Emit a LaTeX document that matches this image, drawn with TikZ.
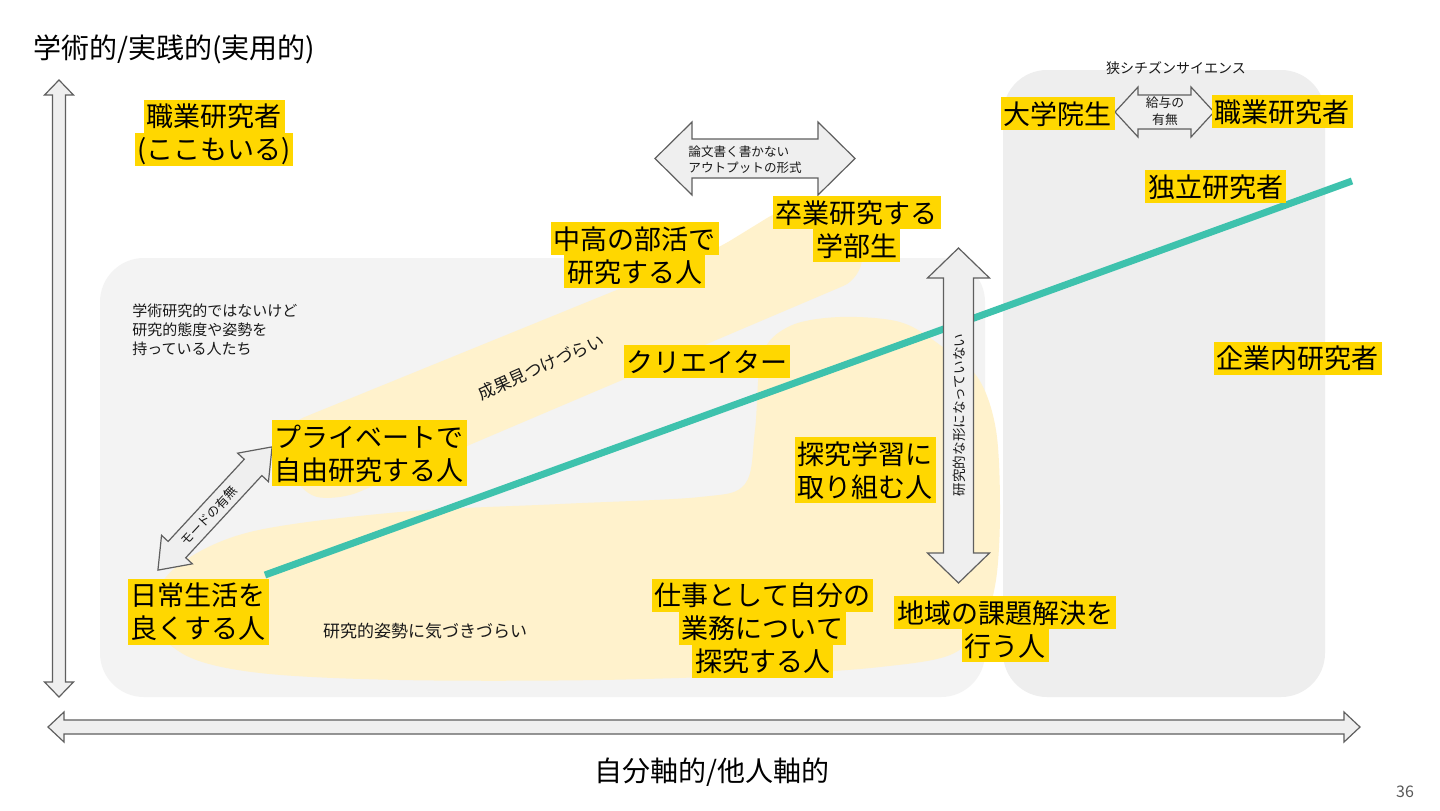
\documentclass[tikz,border=0pt]{standalone}
\usepackage{fontspec}
\setmainfont{Noto Sans CJK JP}
\usetikzlibrary{calc}
\definecolor{hl}{HTML}{FFD700}
\definecolor{paleY}{HTML}{FFF2CC}
\definecolor{boxL}{HTML}{F3F3F3}
\definecolor{boxR}{HTML}{EEEEEE}
\definecolor{arrowfill}{HTML}{EFEFEF}
\definecolor{arrowline}{HTML}{5F5F5F}
\definecolor{tealline}{HTML}{3EC2AD}
\definecolor{pagenum}{HTML}{595959}
\newcommand\yl[1]{{\setlength{\fboxsep}{0pt}\colorbox{hl}{\rule[-3pt]{0pt}{16.5pt}\hspace{1.5pt}#1\hspace{1.5pt}}}}
\newcommand\blockarrow[6]{%
  \path[barrow, shift={#1}, rotate=#2] (-#3,0) -- ({-#3+#6},#5) -- ({-#3+#6},#4) -- ({#3-#6},#4) -- ({#3-#6},#5) -- (#3,0) -- ({#3-#6},-#5) -- ({#3-#6},-#4) -- ({-#3+#6},-#4) -- ({-#3+#6},-#5) -- cycle;}
\tikzset{
  barrow/.style={fill=arrowfill, draw=arrowline, line width=0.6pt, line join=miter},
  lab/.style={font=\fontsize{13.5}{16.5}\selectfont, align=center, inner sep=0pt},
  title/.style={font=\fontsize{14}{16.5}\selectfont, inner sep=0pt},
  sm/.style={font=\fontsize{#1}{\dimexpr #1pt*13/10\relax}\selectfont, inner sep=0pt, text=black!90},
  tealstyle/.style={draw=tealline, line width=3.5pt},
}
\begin{document}
\begin{tikzpicture}[x=0.5pt, y=-0.5pt]
\useasboundingbox (0,0) rectangle (1440,810);
\fill[white] (0,0) rectangle (1440,810);
% gray regions
\fill[boxL, rounded corners=22pt] (100,258) rectangle (985,697);
\fill[boxR, rounded corners=22pt] (1003,70) rectangle (1325,697);
% pale yellow regions
\fill[paleY, rounded corners=10pt] (285,425) -- (715,250) -- (785,207) -- (850,207) -- (862,225) -- (862,278) -- (340,500) -- (300,495) -- cycle;
\fill[paleY] plot[smooth cycle, tension=0.55] coordinates {(150,615) (175,568) (250,532) (400,512) (560,504) (700,497) (745,484) (755,430) (762,355) (790,326) (840,317) (900,322) (940,345) (978,378) (996,430) (1000,510) (996,580) (982,625) (950,655) (880,667) (780,674) (600,680) (400,680) (260,673) (185,655)};
% teal line
\coordinate (tA) at (265,575);
\coordinate (tB) at (1352,181);
\draw[tealstyle] (tA) -- (tB);
% axis arrows
\blockarrow{(59,388.5)}{90}{308.5}{6.5}{14.5}{15}
\blockarrow{(704,727)}{0}{656}{7}{15}{16}
% other block arrows
\blockarrow{(755,158.5)}{0}{100}{19.5}{36.5}{37}
\blockarrow{(1164.5,112)}{0}{49.5}{17}{25}{23}
\blockarrow{(958.5,415.5)}{90}{167.5}{15}{31}{30}
\blockarrow{(215,508.5)}{47.2}{84}{12}{21}{28}
% arrow texts
\node[sm=6.3, align=left, anchor=west] (ronbun) at (688,160) {論文書く書かない\\アウトプットの形式};
\node[sm=6.4, align=center] (kyuyo) at (1165,111) {給与の\\有無};
\node[sm=6.3, rotate=47.2] (mode) at (209,516) {モードの有無};
\node[sm=6.8, rotate=90] (katachi) at (959,415) {研究的な形になっていない};
% free texts
\node[title, anchor=west] (yaxis) at (33,49) {学術的/実践的(実用的)};
\node[title] (xaxis) at (712,772) {自分軸的/他人軸的};
\node[sm=8, text=pagenum] (page) at (1405,792) {36};
\node[sm=7] (citizen) at (1176,68) {狭シチズンサイエンス};
\node[sm=7.5, align=left, anchor=north west, font=\fontsize{7.5}{9.5}\selectfont] (gakujutsu) at (132,303) {学術研究的ではないけど\\研究的態度や姿勢を\\持っている人たち};
\node[sm=8.5, rotate=24] (seika) at (541,367) {成果見つけづらい};
\node[sm=8.5] (kizuki) at (425,631) {研究的姿勢に気づきづらい};
% labels
\node[lab] (shokugyoL) at (214,132.5) {\yl{職業研究者}\\\yl{(ここもいる)}};
\node[lab] (daigakuin) at (1057.5,113.5) {\yl{大学院生}};
\node[lab] (shokugyoR) at (1282,111.5) {\yl{職業研究者}};
\node[lab] (dokuritsu) at (1215.5,186.5) {\yl{独立研究者}};
\node[lab] (sotsugyo) at (856.5,229) {\yl{卒業研究する}\\\yl{学部生}};
\node[lab] (chuko) at (634.5,255) {\yl{中高の部活で}\\\yl{研究する人}};
\node[lab] (creator) at (707,361.5) {\yl{クリエイター}};
\node[lab] (kigyo) at (1297.5,358) {\yl{企業内研究者}};
\node[lab] (private) at (369,453) {\yl{プライベートで}\\\yl{自由研究する人}};
\node[lab] (tankyu) at (865,470) {\yl{探究学習に}\\\yl{取り組む人}};
\node[lab] (nichijo) at (198,611.5) {\yl{日常生活を}\\\yl{良くする人}};
\node[lab] (shigoto) at (762.5,628) {\yl{仕事として自分の}\\\yl{業務について}\\\yl{探究する人}};
\node[lab] (chiiki) at (1005,629) {\yl{地域の課題解決を}\\\yl{行う人}};
\end{tikzpicture}
\end{document}
